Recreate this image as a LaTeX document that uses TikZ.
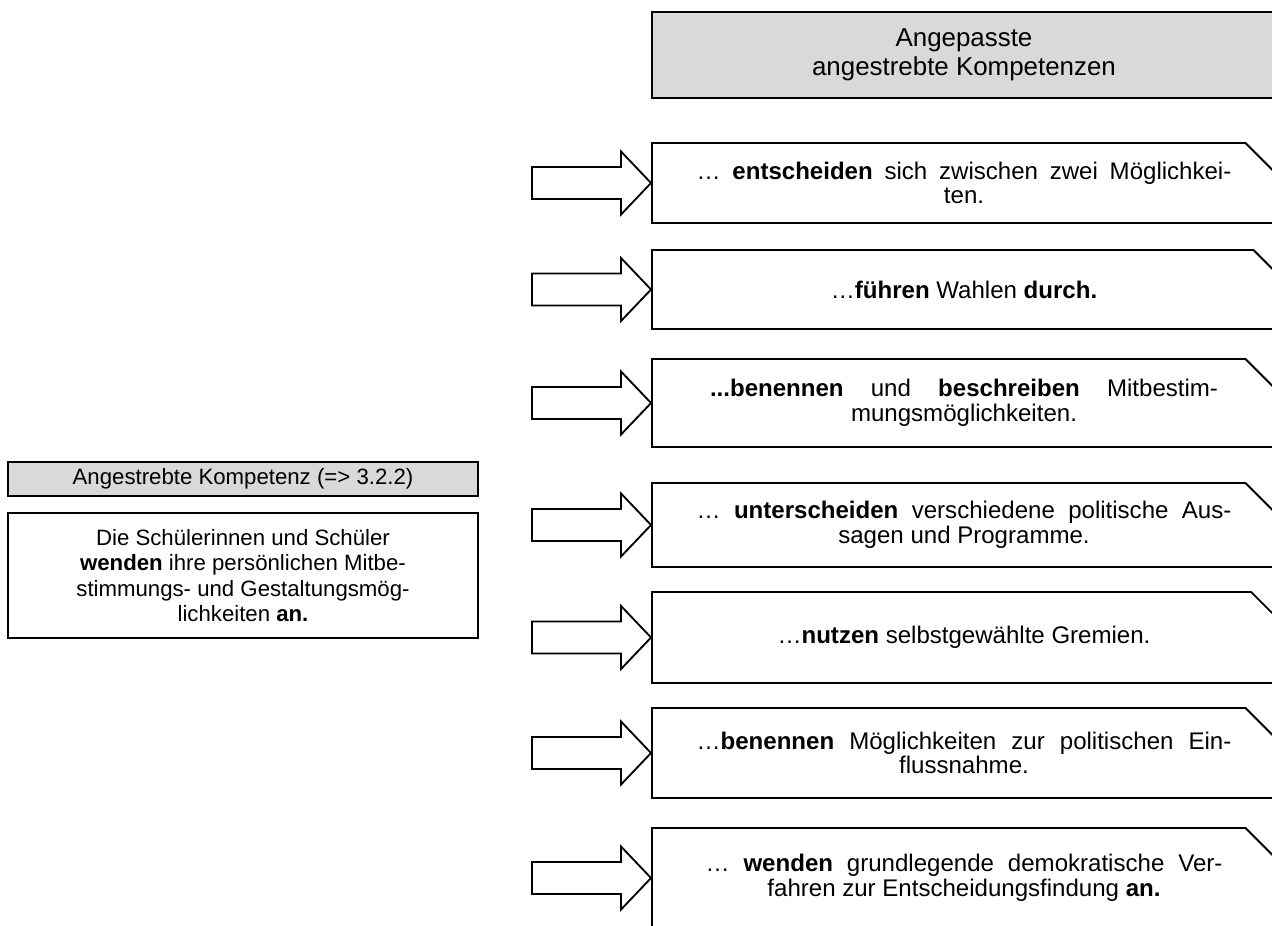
\documentclass[tikz,border=0pt]{standalone}
\usepackage{fontspec}
\setmainfont{Liberation Sans}
\usetikzlibrary{shapes.misc}

% first line of a justified box text
\newcommand{\fullline}[2]{\makebox[#1][s]{#2}}

\begin{document}
\begin{tikzpicture}[x=0.019cm, y=-0.019cm,
    nodes={font=\fontsize{12}{13.6}\selectfont, align=center, draw=black, line width=1pt, inner sep=0pt},
    graybox/.style={rectangle, fill=black!15},
    aimbox/.style={chamfered rectangle, chamfered rectangle corners=north east,
        chamfered rectangle xsep=0.32cm, chamfered rectangle ysep=0.26cm, minimum width=11.856cm,
        font=\fontsize{13}{13.3}\selectfont},
    blockarrow/.style={draw=black, line width=1pt, fill=white}]
    \clip (0,0) rectangle (1272,925);

    % left side
    \node[graybox, minimum width=8.93cm, minimum height=0.646cm] (goal) at (243,479) {Angestrebte Kompetenz (=> 3.2.2)};
    \node[rectangle, minimum width=8.93cm, minimum height=2.375cm] (goaltext) at (243,575.5)
        {Die Schülerinnen und Schüler\\ \textbf{wenden} ihre persönlichen Mitbe-\\
         stimmungs- und Gestaltungsmög-\\lichkeiten \textbf{an.}};

    % right side
    \node[graybox, line width=1.3pt, minimum width=11.856cm, minimum height=1.634cm,
        font=\fontsize{14}{15.5}\selectfont] (head) at (964,55)
        {Angepasste\\angestrebte Kompetenzen};
    \node[aimbox, minimum height=1.52cm] (b1) at (964,183)
        {\fullline{10.16cm}{… \textbf{entscheiden} sich zwischen zwei Möglichkei-}\\ten.};
    \node[aimbox, minimum height=1.501cm] (b2) at (964,289.5) {…\textbf{führen} Wahlen \textbf{durch.}};
    \node[aimbox, minimum height=1.672cm] (b3) at (964,403)
        {\fullline{9.65cm}{\textbf{...benennen} und \textbf{beschreiben} Mitbestim-}\\mungsmöglichkeiten.};
    \node[aimbox, minimum height=1.596cm] (b4) at (964,525)
        {\fullline{10.16cm}{… \textbf{unterscheiden} verschiedene politische Aus-}\\sagen und Programme.};
    \node[aimbox, minimum height=1.729cm] (b5) at (964,637.5) {…\textbf{nutzen} selbstgewählte Gremien.};
    \node[aimbox, minimum height=1.71cm] (b6) at (964,753)
        {\fullline{10.16cm}{…\textbf{benennen} Möglichkeiten zur politischen Ein-}\\flussnahme.};
    \node[aimbox, minimum height=1.9cm] (b7) at (964,878)
        {\fullline{9.82cm}{… \textbf{wenden} grundlegende demokratische Ver-}\\fahren zur Entscheidungsfindung \textbf{an.}};

    % block arrows into the boxes
    \foreach \i in {1,...,7}
        \draw[blockarrow] (b\i.west) -- ++(-30,-31.5) -- ++(0,15.5) -- ++(-89,0)
            -- ++(0,32) -- ++(89,0) -- ++(0,15.5) -- cycle;
\end{tikzpicture}
\end{document}
